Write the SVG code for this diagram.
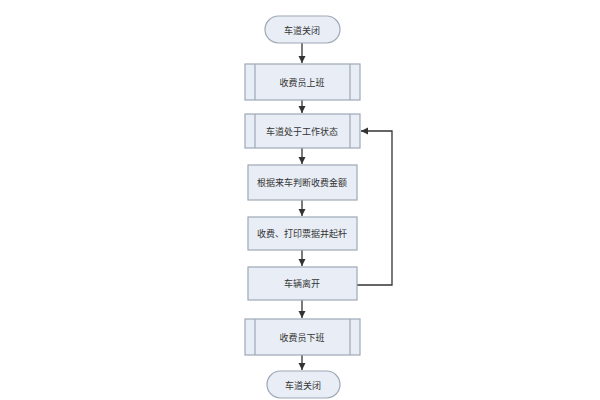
<svg xmlns="http://www.w3.org/2000/svg" width="600" height="400" viewBox="0 0 600 400">
<style>
.n{fill:#e9eef6;stroke:#9ea8b6;stroke-width:1.2}
.t{font-family:"Noto Sans CJK SC",sans-serif;font-size:9px;fill:#333;text-anchor:middle;dominant-baseline:central}
.c{stroke:#333;stroke-width:1.3;fill:none;marker-end:url(#a)}
</style>
<defs><marker id="a" markerWidth="8" markerHeight="8" refX="7" refY="4" orient="auto" markerUnits="userSpaceOnUse"><path d="M0,0.5 L7,4 L0,7.5z" fill="#333"/></marker></defs>
<rect width="600" height="400" fill="#fff"/>
<g id="connectors">
<path class="c" d="M302,43 V63"/>
<path class="c" d="M302,100 V113"/>
<path class="c" d="M302,148 V164"/>
<path class="c" d="M302,200 V216"/>
<path class="c" d="M302,250 V266"/>
<path class="c" d="M302,300 V318"/>
<path class="c" d="M302,355 V370"/>
<path class="c" d="M357,285 H392 V131 H361"/>
</g>
<g id="start"><rect class="n" x="265" y="16" width="75" height="27" rx="13.5"/><text class="t" x="302" y="30">车道关闭</text></g>
<g id="n1"><rect class="n" x="245" y="64" width="115" height="36"/><path class="n" d="M255,64V100M350,64V100"/><text class="t" x="302" y="82">收费员上班</text></g>
<g id="n2"><rect class="n" x="245" y="114" width="115" height="34"/><path class="n" d="M255,114V148M350,114V148"/><text class="t" x="302" y="131">车道处于工作状态</text></g>
<g id="n3"><rect class="n" x="248" y="165" width="109" height="35"/><text class="t" x="302" y="182">根据来车判断收费金额</text></g>
<g id="n4"><rect class="n" x="248" y="217" width="109" height="33"/><text class="t" x="302" y="233">收费、打印票据并起杆</text></g>
<g id="n5"><rect class="n" x="248" y="267" width="109" height="33"/><text class="t" x="302" y="283">车辆离开</text></g>
<g id="n6"><rect class="n" x="245" y="319" width="115" height="36"/><path class="n" d="M255,319V355M350,319V355"/><text class="t" x="302" y="337">收费员下班</text></g>
<g id="end"><rect class="n" x="267" y="371" width="73" height="27" rx="13.5"/><text class="t" x="303" y="385">车道关闭</text></g>
</svg>
